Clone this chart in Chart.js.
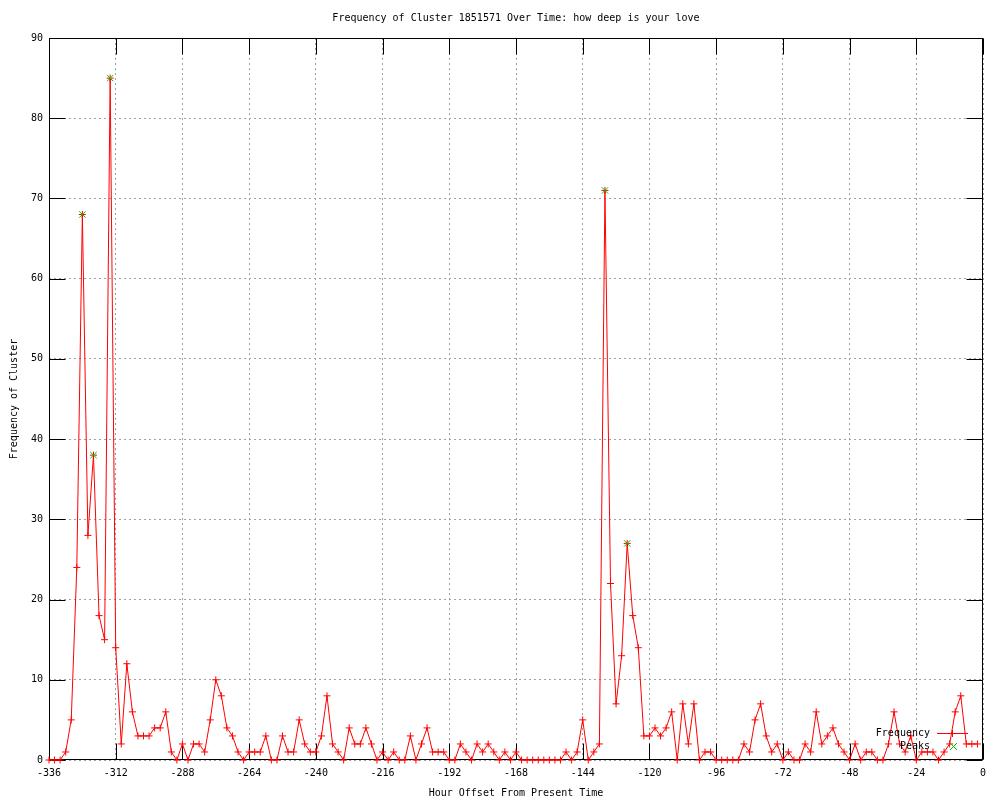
<!DOCTYPE html>
<html>
<head>
<meta charset="utf-8">
<script src="https://cdn.jsdelivr.net/npm/chart.js@4.4.0/dist/chart.umd.min.js"></script>
<style>
html,body{margin:0;padding:0;background:#fff;}
canvas{display:block;}
</style>
</head>
<body>
<canvas id="cluster" width="1000" height="800"></canvas>
<script>
// hourly counts, one point every 2 hours starting at -336
const startHour = -336;
const hourStep = 2;
const freq = [
    0, 0, 0, 1, 5, 24, 68, 28, 38, 18, 15, 85, 14, 2, 12, 6, 3, 3, 3, 4,
    4, 6, 1, 0, 2, 0, 2, 2, 1, 5, 10, 8, 4, 3, 1, 0, 1, 1, 1, 3,
    0, 0, 3, 1, 1, 5, 2, 1, 1, 3, 8, 2, 1, 0, 4, 2, 2, 4, 2, 0,
    1, 0, 1, 0, 0, 3, 0, 2, 4, 1, 1, 1, 0, 0, 2, 1, 0, 2, 1, 2,
    1, 0, 1, 0, 1, 0, 0, 0, 0, 0, 0, 0, 0, 1, 0, 1, 5, 0, 1, 2,
    71, 22, 7, 13, 27, 18, 14, 3, 3, 4, 3, 4, 6, 0, 7, 2, 7, 0, 1, 1,
    0, 0, 0, 0, 0, 2, 1, 5, 7, 3, 1, 2, 0, 1, 0, 0, 2, 1, 6, 2,
    3, 4, 2, 1, 0, 2, 0, 1, 1, 0, 0, 2, 6, 2, 1, 3, 0, 1, 1, 1,
    0, 1, 2, 6, 8, 2, 2, 2
];
const hours = freq.map((v, i) => startHour + i * hourStep);

const peakHours = [-324, -320, -314, -136, -128];
const peakValues = [68, 38, 85, 71, 27];

const titleText = 'Frequency of Cluster 1851571 Over Time: how deep is your love';
const xTitle = 'Hour Offset From Present Time';
const yTitle = 'Frequency of Cluster';

const monoFont = '"DejaVu Sans Mono", "Liberation Mono", monospace';
Chart.defaults.font.family = monoFont;
Chart.defaults.font.size = 10;
Chart.defaults.color = '#000';

// gnuplot style frame, inward ticks, titles and the little key
const gnuplotBits = {
    id: 'gnuplotBits',
    beforeDatasetsDraw(chart) {
        const c = chart.ctx;
        const a = chart.chartArea;
        const L = Math.round(a.left) + 0.5, R = Math.round(a.right) - 0.5;
        const T = Math.round(a.top) + 0.5, B = Math.round(a.bottom) - 0.5;
        const tl = 16;
        c.save();
        c.strokeStyle = '#000';
        c.lineWidth = 1;
        c.beginPath();
        chart.scales.x.ticks.forEach(t => {
            const px = Math.round(chart.scales.x.getPixelForValue(t.value)) + 0.5;
            c.moveTo(px, B); c.lineTo(px, B - tl);
            c.moveTo(px, T); c.lineTo(px, T + tl);
        });
        chart.scales.y.ticks.forEach(t => {
            const py = Math.round(chart.scales.y.getPixelForValue(t.value)) + 0.5;
            c.moveTo(L, py); c.lineTo(L + tl, py);
            c.moveTo(R, py); c.lineTo(R - tl, py);
        });
        c.stroke();
        c.strokeRect(L, T, R - L, B - T);
        c.restore();
    },
    afterDraw(chart) {
        const c = chart.ctx;
        const a = chart.chartArea;
        const mid = (a.left + a.right) / 2;
        c.save();
        c.fillStyle = '#000';
        c.font = '10px ' + monoFont;
        c.textBaseline = 'middle';
        c.textAlign = 'center';
        c.fillText(titleText, mid, 18);
        c.fillText(xTitle, mid, 793);
        c.save();
        c.translate(14, (a.top + a.bottom) / 2);
        c.rotate(-Math.PI / 2);
        c.fillText(yTitle, 0, 0);
        c.restore();

        // key
        c.textAlign = 'right';
        c.fillText('Frequency', 930, 733);
        c.fillText('Peaks', 930, 746);
        c.strokeStyle = '#ff0000';
        c.lineWidth = 1;
        c.beginPath();
        c.moveTo(937, 733.5); c.lineTo(968, 733.5);
        c.moveTo(952.5, 730); c.lineTo(952.5, 737);
        c.stroke();
        c.strokeStyle = '#00c000';
        c.beginPath();
        c.moveTo(950, 743); c.lineTo(957, 750);
        c.moveTo(957, 743); c.lineTo(950, 750);
        c.stroke();
        c.restore();
    }
};

const ctx = document.getElementById('cluster').getContext('2d');
const clusterChart = new Chart(ctx, {
    type: 'line',
    data: {
        datasets: [
            {
                label: 'Frequency',
                data: hours.map((h, i) => ({x: h, y: freq[i]})),
                borderColor: '#ff0000',
                backgroundColor: '#ff0000',
                borderWidth: 1,
                pointStyle: 'cross',
                pointRadius: 3.5,
                pointBorderWidth: 1,
                tension: 0,
                clip: false,
                order: 2
            },
            {
                label: 'Peaks',
                data: peakHours.map((h, i) => ({x: h, y: peakValues[i]})),
                showLine: false,
                borderColor: '#00c000',
                backgroundColor: '#00c000',
                pointStyle: 'crossRot',
                pointRadius: 4.5,
                pointBorderWidth: 1,
                clip: false,
                order: 1
            }
        ]
    },
    options: {
        responsive: false,
        animation: false,
        layout: {
            padding: {top: 38, right: 17, bottom: 0, left: 0}
        },
        plugins: {
            legend: {display: false},
            title: {display: false},
            tooltip: {enabled: false}
        },
        scales: {
            x: {
                type: 'linear',
                min: -336,
                max: 0,
                ticks: {stepSize: 24, padding: 7, maxRotation: 0, autoSkip: false},
                grid: {color: '#a0a0a0', drawTicks: false},
                border: {display: false, dash: [2, 3]},
                afterFit: s => { s.height = 40; }
            },
            y: {
                min: 0,
                max: 90,
                ticks: {stepSize: 10, padding: 6},
                grid: {color: '#a0a0a0', drawTicks: false},
                border: {display: false, dash: [2, 3]},
                afterFit: s => { s.width = 49; }
            }
        }
    },
    plugins: [gnuplotBits]
});
</script>
</body>
</html>
